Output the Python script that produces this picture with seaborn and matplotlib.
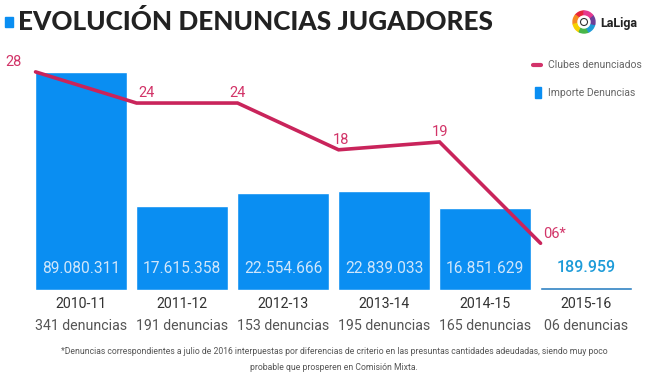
import matplotlib
matplotlib.use('Agg')
import numpy as np
import matplotlib.pyplot as plt
import seaborn as sns
from matplotlib.patches import Rectangle, Wedge, Circle
from matplotlib.lines import Line2D

# Datos
temporadas = ['2010-11', '2011-12', '2012-13', '2013-14', '2014-15', '2015-16']
denuncias = ['341 denuncias', '191 denuncias', '153 denuncias', '195 denuncias',
             '165 denuncias', '06 denuncias']
importe_etiquetas = ['89.080.311', '17.615.358', '22.554.666', '22.839.033',
                     '16.851.629', '189.959']
# altura de las barras tal como se ve en el original (misma escala que los clubes)
altura_barras = [28, 10.8, 12.45, 12.7, 10.5, 0.4]
clubes = [28, 24, 24, 18, 19, 6]
clubes_etiquetas = ['28', '24', '24', '18', '19', '06*']

W, H = 668, 376
fig = plt.figure(figsize=(W / 100, H / 100), dpi=100)
fig.patch.set_facecolor('white')
sns.set_style('white')
plt.rcParams['font.family'] = ['Roboto', 'DejaVu Sans']

# ejes: linea base en y=290px, 7.79 px por unidad
base_px = 290
px_unidad = 7.79
top_px = 40
ax = fig.add_axes([30.5 / W, (H - base_px) / H, 606 / W, (base_px - top_px) / H])
ax.set_facecolor('none')

azul = '#0a8ef2'
colores = [azul] * 5 + ['#2b7fc2']
sns.barplot(x=temporadas, y=altura_barras, hue=temporadas, palette=colores,
            width=0.91, saturation=1, legend=False, ax=ax)

x_linea = np.arange(len(clubes)) - 0.45
sns.lineplot(x=x_linea, y=clubes, color='#c9245b', linewidth=2.6, sort=False,
             ax=ax, solid_joinstyle='miter')

ax.set_xlim(-0.5, 5.5)
ax.set_ylim(0, (base_px - top_px) / px_unidad)
ax.axis('off')

# etiquetas de importe
for i, txt in enumerate(importe_etiquetas):
    if i < 5:
        ax.text(i, 2.8, txt, ha='center', va='center', fontsize=11.2,
                color='#cfe6fb')
    else:
        ax.text(i, 2.9, txt, ha='center', va='center', fontsize=11.5,
                color='#1c9bd8', fontweight='medium')

# etiquetas de clubes
offsets = [(-22, 10), (10, 10), (0, 10), (2, 10), (1, 10), (14, 9)]
for xv, yv, txt, off in zip(x_linea, clubes, clubes_etiquetas, offsets):
    ax.annotate(txt, (xv, yv), xytext=off, textcoords='offset pixels',
                ha='center', va='center', fontsize=10.5, color='#d23468',
                annotation_clip=False)

# etiquetas de eje x (dos lineas)
for i, (t, d) in enumerate(zip(temporadas, denuncias)):
    ax.annotate(t, (i, 0), xytext=(0, -14), textcoords='offset pixels',
                ha='center', va='center', fontsize=10.2, color='#333333',
                annotation_clip=False)
    ax.annotate(d, (i, 0), xytext=(0, -36), textcoords='offset pixels',
                ha='center', va='center', fontsize=10.2, color='#555555',
                annotation_clip=False)

# titulo
fig.patches.append(Rectangle((5 / W, 1 - 27 / H), 8 / W, 10 / H,
                             transform=fig.transFigure, color=azul))
fig.text(18 / W, 1 - 22 / H, 'EVOLUCIÓN DENUNCIAS JUGADORES', ha='left', va='center',
         fontsize=18.8, fontweight='black', color='#222222',
         family=['Lato', 'DejaVu Sans'])

# logo LaLiga
logo_ax = fig.add_axes([(584 - 13) / W, (H - 22 - 13) / H, 26 / W, 26 / H])
logo_ax.set_xlim(-13, 13)
logo_ax.set_ylim(-13, 13)
logo_ax.set_aspect('equal')
logo_ax.axis('off')
colores_logo = ['#e7253a', '#f58a1f', '#f6d200', '#47b649', '#1e9bd7', '#6d3f98', '#e5398e']
ang = 90
for c in colores_logo:
    logo_ax.add_patch(Wedge((0, 0), 11, ang, ang + 360 / 7, width=5, color=c))
    ang += 360 / 7
logo_ax.add_patch(Circle((0, 0), 6, color='white'))
logo_ax.add_patch(Circle((0, 0), 3.5, facecolor='white', edgecolor='#333333', linewidth=0.8))
fig.text(600 / W, 1 - 23 / H, 'LaLiga', ha='left', va='center', fontsize=9,
         fontweight='bold', color='#222222')

# leyenda
fig.lines.append(Line2D([533 / W, 541 / W], [1 - 65 / H, 1 - 65 / H],
                        transform=fig.transFigure, color='#d2336a', linewidth=3,
                        solid_capstyle='round'))
fig.text(548 / W, 1 - 65 / H, 'Clubes denunciados', ha='left', va='center',
         fontsize=7.5, color='#666666')
fig.patches.append(Rectangle((535 / W, 1 - 98 / H), 6 / W, 11 / H,
                             transform=fig.transFigure, color=azul))
fig.text(548 / W, 1 - 93 / H, 'Importe Denuncias', ha='left', va='center',
         fontsize=7.5, color='#666666')

# nota
fig.text(0.5, 1 - 352 / H,
         '*Denuncias correspondientes a julio de 2016 interpuestas por diferencias de criterio '
         'en las presuntas cantidades adeudadas, siendo muy poco',
         ha='center', va='center', fontsize=6.2, color='#555555')
fig.text(0.5, 1 - 367 / H, 'probable que prosperen en Comisión Mixta.',
         ha='center', va='center', fontsize=6.2, color='#555555')

fig.savefig('out.png', dpi=100)
